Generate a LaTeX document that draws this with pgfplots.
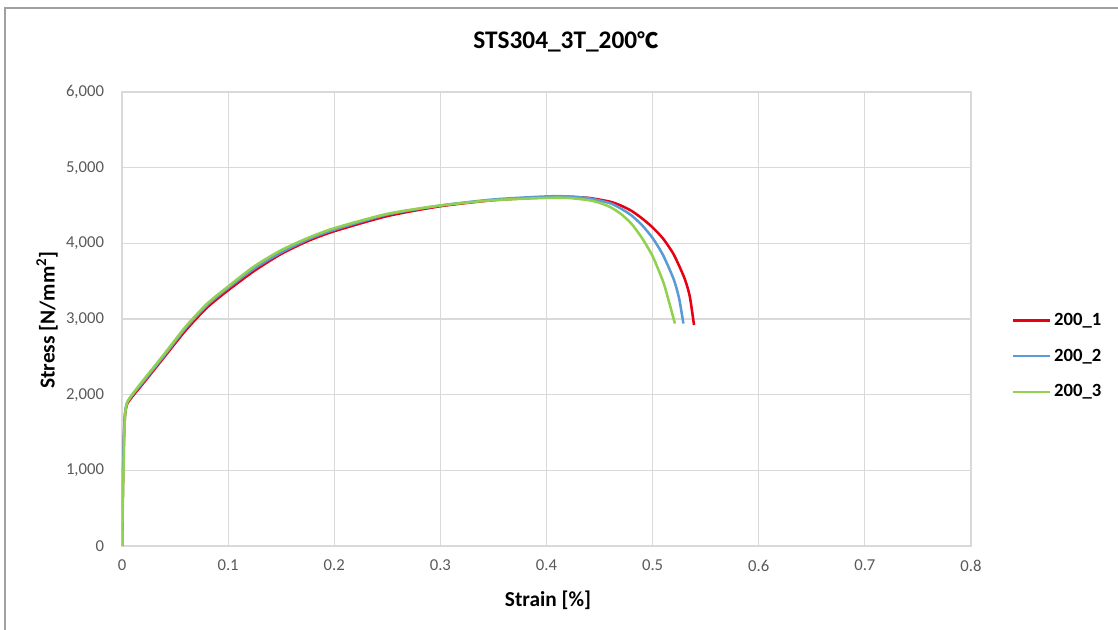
\documentclass[border=0pt]{standalone}
\usepackage{pgfplots}
\pgfplotsset{compat=1.18}
\usepackage{fontspec}
\setmainfont{Carlito}
\newfontfamily\cjk{Noto Sans CJK KR}
\definecolor{tickgray}{RGB}{89,89,89}
\definecolor{gridgray}{RGB}{217,217,217}
\definecolor{framegray}{RGB}{160,160,160}
\definecolor{cred}{RGB}{230,0,18}
\definecolor{cblue}{RGB}{91,155,213}
\definecolor{cgreen}{RGB}{146,208,80}
\begin{document}
\begin{tikzpicture}[x=0.75pt,y=0.75pt]
% page = 1118 x 630 px, axis south west at (122,546) px
\useasboundingbox (-122,-84) rectangle (996,546);
\draw[framegray,line width=0.8pt] (-117,-84) -- (-117,538) -- (996,538);
\begin{axis}[
    at={(0,0)}, anchor=south west,
    scale only axis,
    width=636.75pt, height=340.5pt,
    xmin=0, xmax=0.8,
    ymin=0, ymax=6000,
    xtick={0,0.1,...,0.8},
    ytick={0,1000,...,6000},
    grid=major,
    grid style={gridgray, line width=0.8pt},
    axis line style={gridgray, line width=0.8pt},
    tick style={draw=none},
    ticklabel style={tickgray, font=\fontsize{12.5}{14}\selectfont},
    /pgf/number format/assume math mode=true,
    /pgf/number format/1000 sep={,},
    xticklabel style={/pgf/number format/fixed, yshift=-7pt},
    yticklabel style={xshift=-10pt},
    scaled ticks=false,
    legend style={at={(1.043,0.418)}, anchor=west, draw=none,
        font=\fontsize{14}{16}\selectfont\bfseries,
        row sep=12pt, legend cell align=left},
    legend image code/.code={\draw[#1, line width=1.9pt] (0cm,0cm) -- (0.98cm,0cm);},
]
\addplot[cred, line width=1.9pt, smooth, tension=0.4] coordinates {
(0,0)(0.001,900)(0.002,1500)(0.003,1750)(0.005,1880)(0.01,1980)(0.02,2150)
(0.04,2500)(0.06,2850)(0.08,3150)(0.1,3380)(0.125,3640)(0.15,3860)(0.175,4030)
(0.2,4160)(0.25,4360)(0.3,4490)(0.35,4570)(0.4,4610)(0.42,4615)(0.44,4600)
(0.46,4550)(0.47,4500)(0.48,4430)(0.49,4330)(0.5,4210)(0.51,4060)(0.52,3850)
(0.53,3540)(0.535,3300)(0.539,2920)};
\addplot[cblue, line width=1.9pt, smooth, tension=0.4] coordinates {
(0,0)(0.001,1000)(0.002,1550)(0.003,1780)(0.005,1900)(0.01,2000)(0.02,2170)
(0.04,2520)(0.06,2880)(0.08,3180)(0.1,3410)(0.125,3670)(0.15,3880)(0.175,4050)
(0.2,4180)(0.25,4380)(0.3,4500)(0.35,4580)(0.4,4620)(0.42,4620)(0.44,4595)
(0.46,4530)(0.47,4460)(0.48,4370)(0.49,4240)(0.5,4070)(0.51,3840)(0.52,3520)
(0.525,3270)(0.529,2940)};
\addplot[cgreen, line width=1.9pt, smooth, tension=0.4] coordinates {
(0,0)(0.001,700)(0.002,1400)(0.003,1750)(0.005,1900)(0.01,2010)(0.02,2190)
(0.04,2540)(0.06,2900)(0.08,3200)(0.1,3430)(0.125,3700)(0.15,3910)(0.175,4070)
(0.2,4200)(0.25,4390)(0.3,4500)(0.35,4570)(0.4,4600)(0.42,4600)(0.44,4570)
(0.45,4535)(0.46,4480)(0.47,4390)(0.48,4260)(0.49,4070)(0.5,3830)(0.51,3490)
(0.515,3250)(0.521,2940)};
\legend{200\_1, 200\_2, 200\_3}
\end{axis}
\node[font=\fontsize{19}{21}\selectfont\bfseries] at (444,504) {STS304\_3T\_200{\cjk\fontsize{16}{18}\selectfont ℃}};
\node[font=\fontsize{16}{18}\selectfont\bfseries] at (426,-54) {Strain [\%]};
\node[font=\fontsize{16}{18}\selectfont\bfseries, rotate=90] at (-75,226) {Stress [N/mm$^{\mathbf{2}}$]};
\end{tikzpicture}
\end{document}
